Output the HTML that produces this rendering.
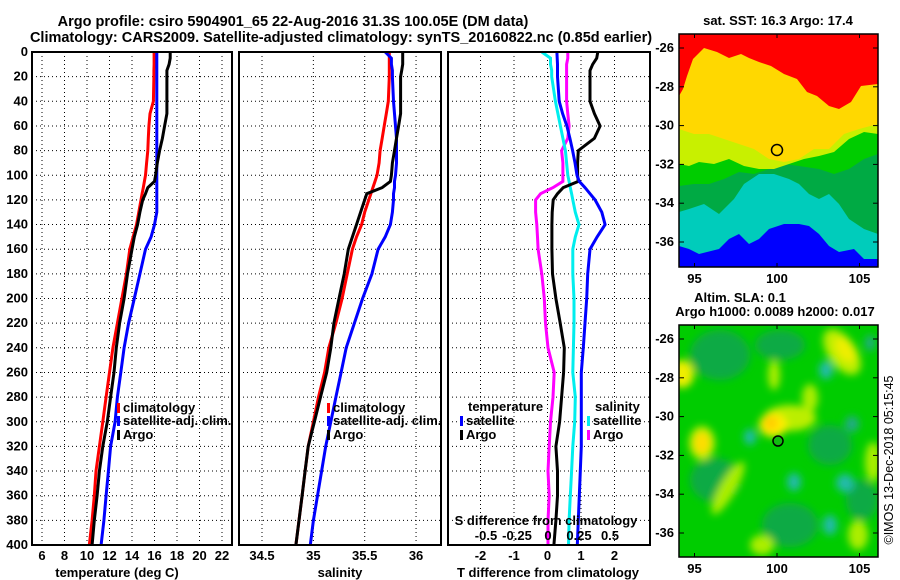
<!DOCTYPE html>
<html><head><meta charset="utf-8"><style>
body{margin:0;background:#fff}
svg{display:block;font-family:"Liberation Sans",sans-serif;font-weight:bold}
text{font-size:13px;fill:#000}
</style></head><body>
<svg id="s" width="900" height="580" viewBox="0 0 900 580">
<text x="293" y="26" text-anchor="middle" style="font-size:14.5px">Argo profile: csiro 5904901_65 22-Aug-2016 31.3S 100.05E (DM data)</text>
<text x="341" y="42" text-anchor="middle" style="font-size:14.5px">Climatology: CARS2009. Satellite-adjusted climatology: synTS_20160822.nc (0.85d earlier)</text>
<g id="plots"></g>
<g id="maps">
<defs><clipPath id="c1"><rect x="679" y="34" width="199" height="233"/></clipPath><clipPath id="c2"><rect x="679" y="325" width="199" height="232"/></clipPath>
<filter id="bl" x="-50%" y="-50%" width="200%" height="200%"><feGaussianBlur stdDeviation="4"/></filter></defs>
<g clip-path="url(#c1)">
<rect x="679" y="34" width="199" height="233" fill="#0000ff"/>
<polygon transform="translate(679,34)" fill="#00ccbb" points="0,0 199,0 199,225 185,225 175,215 160,218 150,212 140,200 130,192 120,190 105,190 90,195 80,205 70,210 60,200 50,205 40,215 20,220 10,215 0,212"/>
<polygon transform="translate(679,34)" fill="#00aa44" points="0,0 199,0 199,200 185,195 170,185 160,170 150,160 140,165 130,160 120,150 110,145 95,140 80,140 65,150 55,165 40,180 25,170 10,175 0,178"/>
<polygon transform="translate(679,34)" fill="#00cc00" points="0,0 199,0 199,120 185,125 170,135 155,140 140,135 120,132 105,130 90,135 75,140 60,138 45,145 30,150 15,150 0,152"/>
<polygon transform="translate(679,34)" fill="#c8f000" points="0,0 199,0 199,100 185,98 170,105 155,118 140,122 125,125 110,130 95,135 80,135 65,132 50,125 35,130 20,128 10,132 0,130"/>
<polygon transform="translate(679,34)" fill="#ffd800" points="0,0 199,0 199,90 180,95 165,100 150,115 135,115 120,125 105,128 90,125 75,115 60,110 45,105 30,100 15,100 0,95"/>
<polygon transform="translate(679,34)" fill="#ff0000" points="0,0 199,0 199,50 182,52 172,68 160,75 150,72 138,62 128,58 118,45 105,40 92,32 80,28 70,24 62,20 50,24 38,18 25,14 14,25 8,42 4,55 0,62"/>
<circle cx="777" cy="150" r="5.5" fill="none" stroke="#000" stroke-width="1.5"/>
</g>
<g clip-path="url(#c2)">
<rect x="679" y="325" width="199" height="232" fill="#00cc00"/>
<g filter="url(#bl)">
<ellipse cx="720" cy="355" rx="30" ry="25" fill="#11aa44"/>
<ellipse cx="715" cy="480" rx="25" ry="22" fill="#11aa44"/>
<ellipse cx="790" cy="525" rx="28" ry="22" fill="#11aa44"/>
<ellipse cx="830" cy="445" rx="22" ry="20" fill="#11aa44"/>
<ellipse cx="862" cy="500" rx="16" ry="20" fill="#11aa44"/>
<ellipse cx="780" cy="345" rx="25" ry="15" fill="#11aa44"/>
<ellipse cx="842" cy="352" rx="14" ry="26" transform="rotate(-35 842 352)" fill="#bbee00"/>
<ellipse cx="845" cy="350" rx="8" ry="14" transform="rotate(-35 845 350)" fill="#eeee00"/>
<ellipse cx="682" cy="374" rx="12" ry="14" fill="#eeee00"/>
<ellipse cx="702" cy="443" rx="13" ry="17" fill="#bbee00"/>
<ellipse cx="702" cy="443" rx="8" ry="11" fill="#ffdd00"/>
<ellipse cx="790" cy="418" rx="26" ry="13" fill="#bbee00"/>
<ellipse cx="810" cy="398" rx="8" ry="14" fill="#aaee00"/>
<ellipse cx="773" cy="425" rx="14" ry="12" fill="#ffee00"/>
<ellipse cx="771" cy="423" rx="7" ry="7" fill="#ffcc00"/>
<ellipse cx="728" cy="488" rx="8" ry="30" transform="rotate(30 728 488)" fill="#aaee00"/>
<ellipse cx="774" cy="375" rx="6" ry="15" fill="#aaee00"/>
<ellipse cx="762" cy="545" rx="12" ry="10" fill="#aaee00"/>
<ellipse cx="858" cy="535" rx="10" ry="15" fill="#aaee00"/>
<ellipse cx="873" cy="462" rx="8" ry="20" fill="#aaee00"/>
<ellipse cx="826" cy="370" rx="7" ry="9" fill="#22bbaa"/>
<ellipse cx="750" cy="437" rx="6" ry="8" fill="#22bbaa"/>
<ellipse cx="794" cy="482" rx="7" ry="9" fill="#22bbaa"/>
<ellipse cx="845" cy="483" rx="9" ry="9" fill="#22bbaa"/>
<ellipse cx="830" cy="525" rx="7" ry="10" fill="#22bbaa"/>
<ellipse cx="852" cy="424" rx="7" ry="8" fill="#22aa88"/>
<ellipse cx="870" cy="343" rx="5" ry="8" fill="#22aa88"/>
</g>
<circle cx="778" cy="441" r="5" fill="#11bb11" stroke="#000" stroke-width="1.5"/>
</g>
<text x="778" y="25" text-anchor="middle">sat. SST: 16.3 Argo: 17.4</text>
<text x="740" y="302" text-anchor="middle">Altim. SLA: 0.1</text>
<text x="775" y="316" text-anchor="middle">Argo h1000: 0.0089 h2000: 0.017</text>
<text transform="translate(893,460) rotate(-90)" text-anchor="middle" style="font-size:12.5px;font-weight:normal">©IMOS 13-Dec-2018 05:15:45</text>
</g>
</svg>
<script>
// ---- data ----
const depths =     [0,5,10,15,20,40,50,60,70,80,90,100,105,110,115,120,130,140,150,160,180,200,220,240,260,280,300,320,340,360,380,400];
const tempClim =   [15.96,15.96,15.96,15.95,15.95,15.9,15.6,15.5,15.45,15.4,15.3,15.2,15.1,15.0,14.9,14.8,14.6,14.4,14.1,13.8,13.5,13.1,12.7,12.3,12.0,11.7,11.4,11.1,10.8,10.65,10.45,10.2];
const tempSat =    [16.2,16.2,16.2,16.2,16.2,16.2,16.2,16.2,16.2,16.2,16.2,16.2,16.2,16.2,16.2,16.2,16.2,16.0,15.7,15.2,14.7,14.2,13.7,13.3,13.0,12.7,12.5,12.1,11.9,11.7,11.5,11.25];
const tempArgo =   [17.4,17.4,17.3,17.1,17.1,17.1,17.1,16.9,16.7,16.45,16.25,16.1,16.0,15.4,15.2,14.95,14.7,14.5,14.2,14.0,13.6,13.3,12.9,12.6,12.4,12.1,11.8,11.4,11.1,10.9,10.65,10.45];
const salClim =    [35.74,35.74,35.74,35.74,35.74,35.73,35.71,35.69,35.67,35.65,35.64,35.62,35.6,35.58,35.56,35.54,35.5,35.47,35.42,35.38,35.33,35.28,35.22,35.15,35.11,35.05,35.0,34.95,34.92,34.89,34.86,34.83];
const salSat =     [35.70,35.76,35.76,35.77,35.77,35.78,35.79,35.80,35.81,35.81,35.81,35.8,35.79,35.79,35.78,35.78,35.77,35.75,35.7,35.63,35.57,35.48,35.4,35.32,35.27,35.22,35.17,35.12,35.08,35.04,35.0,34.97];
const salArgo =    [35.87,35.87,35.87,35.86,35.85,35.85,35.85,35.83,35.81,35.79,35.77,35.76,35.75,35.67,35.52,35.5,35.46,35.42,35.38,35.34,35.3,35.25,35.2,35.17,35.13,35.07,35.01,34.95,34.92,34.89,34.86,34.83];
const tDiffSat =   [0.28,0.29,0.3,0.3,0.3,0.35,0.45,0.58,0.67,0.75,0.82,0.88,0.95,1.12,1.27,1.42,1.62,1.72,1.48,1.27,1.2,1.17,1.12,1.07,1.01,1.01,1.01,1.01,0.98,0.95,0.92,0.89];
const tDiffArgo =  [1.5,1.47,1.35,1.27,1.27,1.27,1.4,1.57,1.4,0.92,0.9,0.9,0.92,0.47,0.3,0.17,0.14,0.13,0.13,0.13,0.15,0.25,0.38,0.5,0.48,0.42,0.36,0.25,0.3,0.3,0.25,0.19];
const sDiffSat =   [-0.05,0.02,0.02,0.03,0.03,0.06,0.08,0.1,0.12,0.14,0.15,0.16,0.17,0.18,0.19,0.2,0.22,0.25,0.22,0.2,0.2,0.21,0.21,0.205,0.2,0.22,0.215,0.2,0.19,0.18,0.17,0.165];
const sDiffArgo =  [0.16,0.16,0.15,0.15,0.15,0.15,0.16,0.17,0.16,0.11,0.12,0.12,0.12,0.04,-0.06,-0.1,-0.1,-0.09,-0.085,-0.08,-0.05,-0.03,-0.02,0.0,0.05,0.04,0.02,0.01,0.0,0.01,0.0,0.0];
const depthTicks = [0,20,40,60,80,100,120,140,160,180,200,220,240,260,280,300,320,340,360,380,400];
const tempTicks = [6,8,10,12,14,16,18,20,22];
const salTicks = [34.5,35,35.5,36];
const tDiffTicks = [-2,-1,0,1,2];
const sDiffTicks = [-0.5,-0.25,0,0.25,0.5];
const latTicks = [-26,-28,-30,-32,-34,-36];
const lonTicks = [95,100,105];

const NS='http://www.w3.org/2000/svg';
const root=document.getElementById('plots');
function mk(tag,at,parent){const e=document.createElementNS(NS,tag);for(const k in at)e.setAttribute(k,at[k]);(parent||root).appendChild(e);return e;}
const y=d=>52+d*(545-52)/400;
const xT=v=>42+(v-6)*11.25;
const xS=v=>262+(v-34.5)*102.7;
const xD=v=>547.5+v*33.5;
const xSD=v=>548+v*124;
const panels=[[32,232],[239,441],[448,650]];
panels.forEach((p,i)=>{
  const g=mk('g',{});
  
  
  depthTicks.forEach(d=>{
    const l=mk('line',{x1:p[0],x2:p[1],y1:y(d),y2:y(d),stroke:'#000','stroke-width':1,'stroke-dasharray':'1,3'},g);
    
    
  });
  const ticks=i==0?tempTicks:i==1?salTicks:tDiffTicks;
  const fx=i==0?xT:i==1?xS:xD;
  ticks.forEach(t=>{
    const l=mk('line',{x1:fx(t),x2:fx(t),y1:52,y2:545,stroke:'#000','stroke-width':1,'stroke-dasharray':'1,3'},g);
    
    
    const tx=mk('text',{x:fx(t),y:560,'text-anchor':'middle'},g);tx.textContent=t;
    
    
  });
});
depthTicks.forEach(d=>{
  const t=mk('text',{x:28,y:y(d)+4,'text-anchor':'end'});t.textContent=d;
  
  
});
function line(xs,fx,color,name){
  const pts=depths.map((d,i)=>fx(xs[i]).toFixed(1)+','+y(d).toFixed(1)).join(' ');
  const pl=mk('polyline',{points:pts,fill:'none',stroke:color,'stroke-width':3});
  
  
}
line(tempClim,xT,'#ff0000','temp-climatology-line');
line(tempSat,xT,'#0000ff','temp-satellite-line');
line(tempArgo,xT,'#000','temp-argo-line');
line(salClim,xS,'#ff0000','sal-climatology-line');
line(salSat,xS,'#0000ff','sal-satellite-line');
line(salArgo,xS,'#000','sal-argo-line');
line(sDiffArgo,xSD,'#ff00ff','sdiff-argo-line');
line(sDiffSat,xSD,'#00eeee','sdiff-satellite-line');
line(tDiffArgo,xD,'#000','tdiff-argo-line');
line(tDiffSat,xD,'#0000ff','tdiff-satellite-line');
sDiffTicks.forEach(t=>{
  const tx=mk('text',{x:xSD(t),y:540,'text-anchor':'middle'});tx.textContent=t;
  
  
});
function txt(x,yy,s,name,anchor){const t=mk('text',{x:x,y:yy,'text-anchor':anchor||'start'});t.textContent=s;return t;}
txt(546,525,'S difference from climatology','sdiff-axis-title','middle');
txt(117,577,'temperature (deg C)','temp-axis-title','middle');
txt(340,577,'salinity','sal-axis-title','middle');
txt(548,577,'T difference from climatology','tdiff-axis-title','middle');
function leg(x,yy,color,label,name){
  const r=mk('rect',{x:x,y:yy-9,width:3,height:10,fill:color});
  
  
  txt(x+6,yy,label,name);
}
leg(117,412,'#ff0000','climatology','legend-temp-climatology');
leg(117,425,'#0000ff','satellite-adj. clim.','legend-temp-satellite');
leg(117,439,'#000','Argo','legend-temp-argo');
leg(327,412,'#ff0000','climatology','legend-sal-climatology');
leg(327,425,'#0000ff','satellite-adj. clim.','legend-sal-satellite');
leg(327,439,'#000','Argo','legend-sal-argo');
txt(468,411,'temperature','legend-tdiff-title');
leg(460,425,'#0000ff','satellite','legend-tdiff-satellite');
leg(460,439,'#000','Argo','legend-tdiff-argo');
txt(595,411,'salinity','legend-sdiff-title');
leg(587,425,'#00eeee','satellite','legend-sdiff-satellite');
leg(587,439,'#ff00ff','Argo','legend-sdiff-argo');
panels.forEach((p,i)=>{
  const r=mk('rect',{x:p[0],y:52,width:p[1]-p[0],height:493,fill:'none',stroke:'#000','stroke-width':2});
  
  
});
const maps=document.getElementById('maps');
[[34,267,48],[325,557,339]].forEach((m,mi)=>{
  const r=mk('rect',{x:679,y:m[0],width:199,height:m[1]-m[0],fill:'none',stroke:'#000','stroke-width':1.5},maps);
  
  
  latTicks.forEach(l=>{
    const yy=m[2]+(-26-l)*19.4;
    mk('line',{x1:679,x2:684,y1:yy,y2:yy,stroke:'#000'},maps);
    mk('line',{x1:873,x2:878,y1:yy,y2:yy,stroke:'#000'},maps);
    const t=mk('text',{x:674,y:yy+4,'text-anchor':'end'},maps);t.textContent=l;
    
    
  });
  lonTicks.forEach(l=>{
    const xx=777+(l-100)*16.5;
    mk('line',{x1:xx,x2:xx,y1:m[0],y2:m[0]+4,stroke:'#000'},maps);
    mk('line',{x1:xx,x2:xx,y1:m[1]-4,y2:m[1],stroke:'#000'},maps);
    const t=mk('text',{x:xx,y:m[1]+16,'text-anchor':'middle'},maps);t.textContent=l;
    
    
  });
});
</script>
</body></html>
